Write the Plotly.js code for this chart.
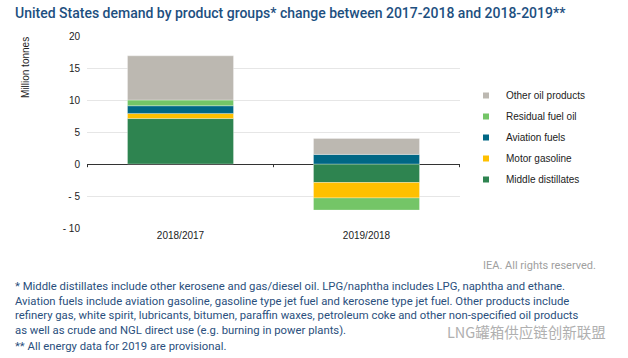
<!DOCTYPE html>
<html>
<head>
<meta charset="utf-8">
<script src="https://cdn.plot.ly/plotly-3.0.1.min.js"></script>
<style>html,body{margin:0;padding:0;background:#fff}#chart{width:628px;height:358px}</style>
</head>
<body>
<div id="chart"></div>
<script>
// Data
const categories = ["2018/2017", "2019/2018"];
const seriesNames = ["Middle distillates", "Motor gasoline", "Aviation fuels", "Residual fuel oil", "Other oil products"];
const middleDistillates = [7.1, -2.9];
const motorGasoline = [0.8, -2.4];
const aviationFuels = [1.2, 1.5];
const residualFuelOil = [0.9, -1.9];
const otherOilProducts = [6.9, 2.5];
const yTickVals = [-10, -5, 0, 5, 10, 15, 20];
const yTickText = ["- 10", "- 5", "0", "5", "10", "15", "20"];

const seriesValues = [middleDistillates, motorGasoline, aviationFuels, residualFuelOil, otherOilProducts];
const colors = ["#2e8450", "#ffc000", "#006785", "#74c567", "#bcb8b1"];

const traces = [];
seriesValues.forEach((vals, i) => {
  traces.push({
    type: "bar", x: categories, y: vals, name: seriesNames[i],
    marker: {color: colors[i], line: {color: "rgba(255,255,255,0.5)", width: 0.6}},
    showlegend: false, hoverinfo: "x+y+name"
  });
});
// legend entries (small square markers), top to bottom = last series first
for (let i = seriesValues.length - 1; i >= 0; i--) {
  traces.push({
    type: "scatter", mode: "markers", x: [null], y: [null], name: seriesNames[i],
    marker: {color: colors[i], symbol: "square", size: 6},
    legendgroup: "g" + i, showlegend: true
  });
}

const footFont = {family: "Roboto, 'Open Sans', sans-serif", size: 11.3, color: "#2a4f7d"};
const layout = {
  width: 628, height: 358,
  margin: {l: 87, r: 168, t: 36, b: 130},
  paper_bgcolor: "#fff", plot_bgcolor: "#fff",
  barmode: "relative", bargap: 0.43,
  font: {family: "'Liberation Sans', Arial, sans-serif", size: 10, color: "#222"},
  title: {
    text: "United States demand by product groups* change between 2017-2018 and 2018-2019**",
    font: {family: "Roboto, sans-serif", size: 14, color: "#1d4f7f", weight: 500},
    xref: "container", yref: "container", x: 15/628, xanchor: "left", y: 1 - 13/358, yanchor: "middle"
  },
  xaxis: {
    type: "category", showgrid: false, showline: false, zeroline: false, ticks: "",
    tickfont: {size: 10, color: "#222"}, fixedrange: true
  },
  yaxis: {
    range: [-10, 20], tickvals: yTickVals, ticktext: yTickText,
    showgrid: true, gridcolor: "#e6e6e6", gridwidth: 1,
    zeroline: true, zerolinecolor: "#333", zerolinewidth: 1,
    showline: false, ticks: "", ticklabelstandoff: 6,
    tickfont: {size: 10, color: "#222"}, fixedrange: true
  },
  legend: {
    x: (466-87)/373, xanchor: "left", y: (228-81)/192, yanchor: "top",
    traceorder: "grouped", tracegroupgap: 2,
    font: {size: 10, color: "#222"}, bgcolor: "rgba(0,0,0,0)"
  },
  shapes: [-0.5, 0.5, 1.5].map(v => ({
    type: "line", xref: "x", yref: "y", x0: v, x1: v, y0: 0, y1: -0.5,
    line: {color: "#333", width: 1}
  })),
  annotations: [
    {text: "Million tonnes", textangle: -90, xref: "paper", yref: "paper",
     x: (25-87)/373, y: (228-68)/192, xanchor: "center", yanchor: "middle", showarrow: false,
     font: {size: 10, color: "#222"}},
    {text: "IEA. All rights reserved.", xref: "paper", yref: "paper",
     x: (598-87)/373, y: (228-265)/192, xanchor: "right", yanchor: "middle", showarrow: false,
     font: {family: "Roboto, sans-serif", size: 11, color: "#a0a0a0"}},
    {text: "* Middle distillates include other kerosene and gas/diesel oil. LPG/naphtha includes LPG, naphtha and ethane.<br>" +
           "Aviation fuels include aviation gasoline, gasoline type jet fuel and kerosene type jet fuel. Other products include<br>" +
           "refinery gas, white spirit, lubricants, bitumen, paraffin waxes, petroleum coke and other non-specified oil products<br>" +
           "as well as crude and NGL direct use (e.g. burning in power plants).",
     align: "left", xref: "paper", yref: "paper",
     x: (13-87)/373, y: (228-308)/192, xanchor: "left", yanchor: "middle", showarrow: false, font: footFont},
    {text: "** All energy data for 2019 are provisional.", align: "left", xref: "paper", yref: "paper",
     x: (13-87)/373, y: (228-346)/192, xanchor: "left", yanchor: "middle", showarrow: false, font: footFont},
    {text: "LNG罐箱供应链创新联盟", xref: "paper", yref: "paper",
     x: (445-87)/373, y: (228-331)/192, xanchor: "left", yanchor: "middle", showarrow: false,
     font: {family: "'Noto Sans CJK SC', sans-serif", size: 14.5, color: "#b0b0b0"}}
  ]
};

Plotly.newPlot("chart", traces, layout, {displayModeBar: false, staticPlot: true});
</script>
</body>
</html>
